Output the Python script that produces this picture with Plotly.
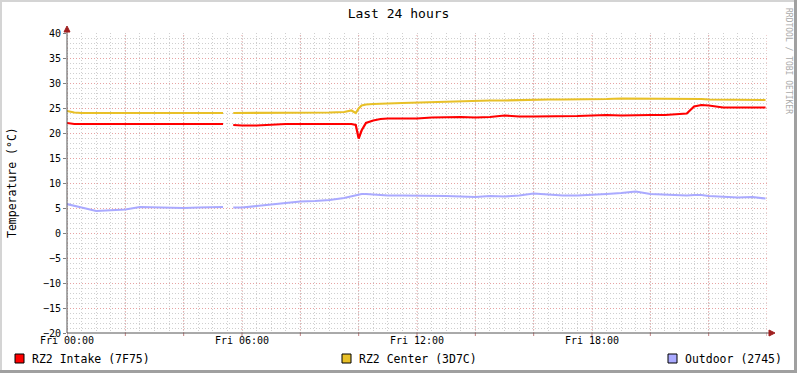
import plotly.graph_objects as go

# ---- data (hours since Fri 00:00) ----
hours = [0, 0.25, 0.5, 1, 1.5, 2, 2.5, 3, 3.5, 4, 4.5, 5, 5.35, 5.36, 5.7, 6, 6.5, 7, 7.5,
         8, 8.5, 9, 9.5, 9.75, 9.9, 10.0, 10.1, 10.25, 10.5, 10.75, 11, 11.5, 12, 12.5, 13,
         13.5, 14, 14.5, 15, 15.5, 16, 16.5, 17, 17.5, 18, 18.5, 19, 19.5, 20, 20.5, 21,
         21.25, 21.5, 21.75, 22, 22.5, 23, 23.5, 23.95]

intake = [22.0, 21.8, 21.8, 21.8, 21.8, 21.8, 21.8, 21.8, 21.8, 21.8, 21.8, 21.8, 21.8, None,
          21.6, 21.5, 21.5, 21.7, 21.8, 21.8, 21.8, 21.8, 21.8, 21.8, 21.6, 18.9, 20.5, 22.0,
          22.5, 22.8, 22.9, 22.9, 22.9, 23.1, 23.2, 23.2, 23.1, 23.2, 23.5, 23.3, 23.3, 23.3,
          23.4, 23.4, 23.5, 23.6, 23.5, 23.6, 23.6, 23.6, 23.8, 23.9, 25.3, 25.6, 25.5, 25.1,
          25.1, 25.1, 25.1]

center = [24.4, 24.1, 24.0, 24.0, 24.1, 24.0, 24.0, 24.1, 24.0, 24.0, 24.1, 24.0, 24.0, None,
          24.0, 24.0, 24.0, 24.1, 24.0, 24.1, 24.0, 24.1, 24.2, 24.5, 24.0, 24.9, 25.5, 25.7,
          25.8, 25.8, 25.9, 26.0, 26.1, 26.2, 26.3, 26.3, 26.4, 26.5, 26.5, 26.6, 26.6, 26.7,
          26.7, 26.7, 26.8, 26.8, 26.9, 26.9, 26.9, 26.8, 26.8, 26.8, 26.8, 26.8, 26.7, 26.7,
          26.6, 26.7, 26.6]

outdoor = [5.8, 5.5, 5.1, 4.4, 4.5, 4.7, 5.2, 5.1, 5.0, 5.0, 5.1, 5.1, 5.2, None,
           5.1, 5.1, 5.4, 5.7, 6.1, 6.3, 6.4, 6.6, 7.0, 7.3, 7.5, 7.7, 7.8, 7.8,
           7.7, 7.6, 7.5, 7.5, 7.5, 7.5, 7.4, 7.3, 7.2, 7.4, 7.3, 7.5, 7.9, 7.7,
           7.5, 7.5, 7.6, 7.8, 8.0, 8.3, 7.8, 7.7, 7.5, 7.5, 7.6, 7.6, 7.4, 7.2,
           7.1, 7.2, 6.9]

series_names = ["RZ2 Intake (7F75)", "RZ2 Center (3D7C)", "Outdoor (2745)"]
series_colors = ["#FF0000", "#E8C028", "#AAAAFF"]

label_hours = {0: "Fri 00:00", 6: "Fri 06:00", 12: "Fri 12:00", 18: "Fri 18:00"}
half_hours = [h / 2 for h in range(49)]
half_text = [label_hours.get(h, "") for h in half_hours]
major_hours = list(range(0, 25, 2))
minor_temps = [t for t in range(-20, 41) if t % 5 != 0]

W, H = 797, 373
L, R, T, B = 67, 30, 33, 40
PW, PH = W - L - R, H - T - B


def px(x):
    return (x - L) / PW


def py(y):
    return (H - B - y) / PH


mono = "DejaVu Sans Mono"
major_grid = "rgba(225,140,140,0.8)"
minor_grid = "rgba(195,195,195,0.8)"
dotdash = "1px,2px"

fig = go.Figure()
for vals, name, col in zip([intake, center, outdoor], series_names, series_colors):
    fig.add_trace(go.Scatter(x=hours, y=vals, mode="lines", name=name,
                             line=dict(color=col, width=2.2),
                             connectgaps=False, showlegend=False))

fig.update_layout(
    width=W, height=H,
    margin=dict(l=L, r=R, t=T, b=B),
    paper_bgcolor="#FFFFFF", plot_bgcolor="#FFFFFF",
    font=dict(family=mono, size=10, color="#000000"),
    title=dict(text="Last 24 hours", x=0.5, xanchor="center", y=1 - 13 / H,
               yanchor="middle", font=dict(family=mono, size=13)),
    xaxis=dict(range=[0, 24], tickmode="array", tickvals=half_hours, ticktext=half_text,
               showgrid=True, gridcolor=minor_grid, griddash=dotdash, gridwidth=1,
               ticks="", ticklabelstandoff=0,
               showline=False, zeroline=False, tickfont=dict(family=mono, size=10)),
    yaxis=dict(range=[-20, 40], dtick=5, tick0=0,
               showgrid=True, gridcolor=major_grid, griddash=dotdash, gridwidth=1,
               ticks="outside", ticklen=3, tickcolor="#808080",
               minor=dict(tickmode="array", tickvals=minor_temps, showgrid=True,
                          gridcolor=minor_grid, griddash=dotdash, gridwidth=1, ticks=""),
               showline=False, zeroline=False, tickfont=dict(family=mono, size=10)),
)

shapes = []
# major vertical grid (every 2 hours) and its small ticks
for h in major_hours:
    shapes.append(dict(type="line", xref="x", yref="paper", x0=h, x1=h, y0=0, y1=1,
                       line=dict(color=major_grid, width=1, dash=dotdash), layer="below"))
    shapes.append(dict(type="line", xref="x", yref="paper", x0=h, x1=h, y0=0, y1=py(336),
                       line=dict(color="#C08080", width=1), layer="above"))
# frame
shapes.append(dict(type="rect", xref="paper", yref="paper", x0=px(0), x1=px(W), y0=py(0), y1=py(2),
                   fillcolor="#D4D4D4", line=dict(width=0), layer="above"))
shapes.append(dict(type="rect", xref="paper", yref="paper", x0=px(0), x1=px(2), y0=py(0), y1=py(H),
                   fillcolor="#D4D4D4", line=dict(width=0), layer="above"))
shapes.append(dict(type="rect", xref="paper", yref="paper", x0=px(W - 3), x1=px(W), y0=py(0), y1=py(H),
                   fillcolor="#A0A0A0", line=dict(width=0), layer="above"))
shapes.append(dict(type="rect", xref="paper", yref="paper", x0=px(0), x1=px(W), y0=py(H - 3), y1=py(H),
                   fillcolor="#A0A0A0", line=dict(width=0), layer="above"))
# axes
axis_col = "#555555"
arrow_col = "#A02020"
shapes.append(dict(type="line", xref="paper", yref="paper", x0=px(L), x1=px(770), y0=0, y1=0,
                   line=dict(color=axis_col, width=1), layer="above"))
shapes.append(dict(type="line", xref="paper", yref="paper", x0=0, x1=0, y0=0, y1=py(30),
                   line=dict(color=axis_col, width=1), layer="above"))
shapes.append(dict(type="path", xref="paper", yref="paper",
                   path=f"M {px(769)} {py(330)} L {px(775)} {py(333)} L {px(769)} {py(336)} Z",
                   fillcolor=arrow_col, line=dict(color=arrow_col, width=1), layer="above"))
shapes.append(dict(type="path", xref="paper", yref="paper",
                   path=f"M {px(64)} {py(32)} L {px(67)} {py(26)} L {px(70)} {py(32)} Z",
                   fillcolor=arrow_col, line=dict(color=arrow_col, width=1), layer="above"))

annotations = []
# legend
legend_x = [15, 342, 668]
for lx, name, col in zip(legend_x, series_names, series_colors):
    shapes.append(dict(type="rect", xref="paper", yref="paper", x0=px(lx), x1=px(lx + 9),
                       y0=py(354), y1=py(363), fillcolor=col,
                       line=dict(color="#000000", width=1), layer="above"))
    annotations.append(dict(text=name, xref="paper", yref="paper", x=px(lx + 15), y=py(358.5),
                            xanchor="left", yanchor="middle", showarrow=False,
                            font=dict(family=mono, size=11.5, color="#000000")))

annotations.append(dict(text="Temperature (°C)", xref="paper", yref="paper", x=px(12), y=py(183),
                        xanchor="center", yanchor="middle", textangle=-90, showarrow=False,
                        font=dict(family=mono, size=11.5, color="#000000")))
annotations.append(dict(text="RRDTOOL / TOBI OETIKER", xref="paper", yref="paper", x=px(789),
                        y=py(61), xanchor="center", yanchor="middle", textangle=90,
                        showarrow=False, font=dict(family=mono, size=8, color="#AAAAAA")))

fig.update_layout(shapes=shapes, annotations=annotations)
fig.write_html("out.html", config={"displayModeBar": False},
               post_script="document.body.style.margin='0px';"
                           "document.body.style.padding='0px';")
